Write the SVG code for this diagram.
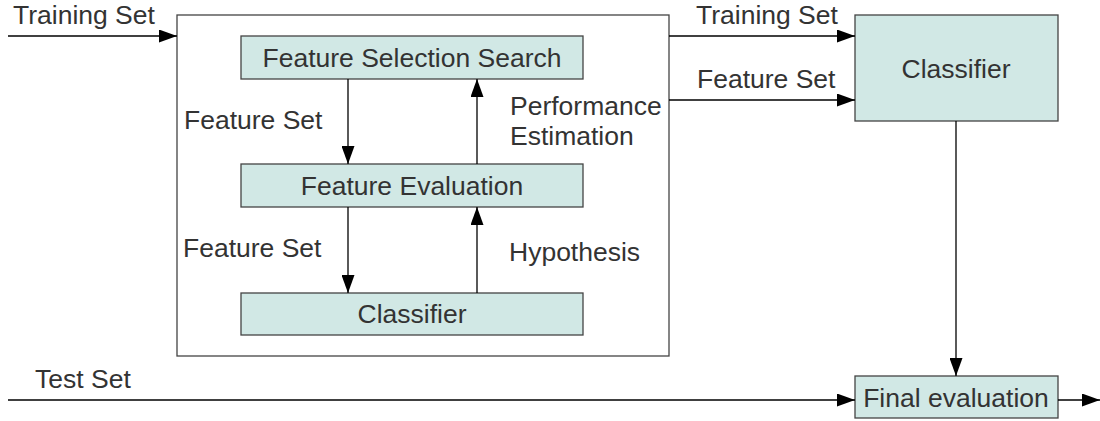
<svg xmlns="http://www.w3.org/2000/svg" width="1100" height="421" viewBox="0 0 1100 421">
<style>
text{font-family:"Liberation Sans",Arial,sans-serif;font-size:26.5px;fill:#333}
.c{text-anchor:middle}
.box{fill:#d1e8e5;stroke:#444;stroke-width:1.3}
.frame{fill:#fff;stroke:#444;stroke-width:1.3}
.ln{fill:none;stroke:#000;stroke-width:1.3}
</style>
<defs>
<marker id="ah" markerUnits="userSpaceOnUse" markerWidth="19" markerHeight="13" refX="18" refY="6.5" orient="auto">
<path d="M0,0 L18,6.5 L0,13 Z" fill="#000"/>
</marker>
</defs>
<g id="outer"><rect class="frame" x="177" y="15" width="492" height="341"/></g>
<g id="fss"><rect class="box" x="241" y="36" width="342" height="43"/><text class="c" x="412" y="67">Feature Selection Search</text></g>
<g id="fe"><rect class="box" x="241" y="164" width="342" height="43"/><text class="c" x="412" y="195">Feature Evaluation</text></g>
<g id="clsin"><rect class="box" x="241" y="293" width="342" height="42"/><text class="c" x="412" y="323">Classifier</text></g>
<g id="cls"><rect class="box" x="855" y="15" width="203" height="106"/><text class="c" x="956" y="78">Classifier</text></g>
<g id="final"><rect class="box" x="855" y="376" width="203" height="42"/><text class="c" x="956" y="407">Final evaluation</text></g>
<g id="connectors">
<line class="ln" x1="8" y1="36" x2="177" y2="36" marker-end="url(#ah)"/>
<line class="ln" x1="348" y1="79" x2="348" y2="164" marker-end="url(#ah)"/>
<line class="ln" x1="477" y1="164" x2="477" y2="79" marker-end="url(#ah)"/>
<line class="ln" x1="348" y1="207" x2="348" y2="293" marker-end="url(#ah)"/>
<line class="ln" x1="477" y1="293" x2="477" y2="207" marker-end="url(#ah)"/>
<line class="ln" x1="669" y1="36" x2="855" y2="36" marker-end="url(#ah)"/>
<line class="ln" x1="669" y1="100" x2="855" y2="100" marker-end="url(#ah)"/>
<line class="ln" x1="956" y1="121" x2="956" y2="376" marker-end="url(#ah)"/>
<line class="ln" x1="8" y1="400" x2="855" y2="400" marker-end="url(#ah)"/>
<line class="ln" x1="1058" y1="400" x2="1100" y2="400" marker-end="url(#ah)"/>
</g>
<g id="labels">
<text x="13" y="24">Training Set</text>
<text x="184" y="129">Feature Set</text>
<text x="183" y="257">Feature Set</text>
<text x="510" y="115">Performance</text>
<text x="510" y="145">Estimation</text>
<text x="509" y="261">Hypothesis</text>
<text x="696" y="24">Training Set</text>
<text x="697" y="88">Feature Set</text>
<text x="35" y="388">Test Set</text>
</g>
</svg>
